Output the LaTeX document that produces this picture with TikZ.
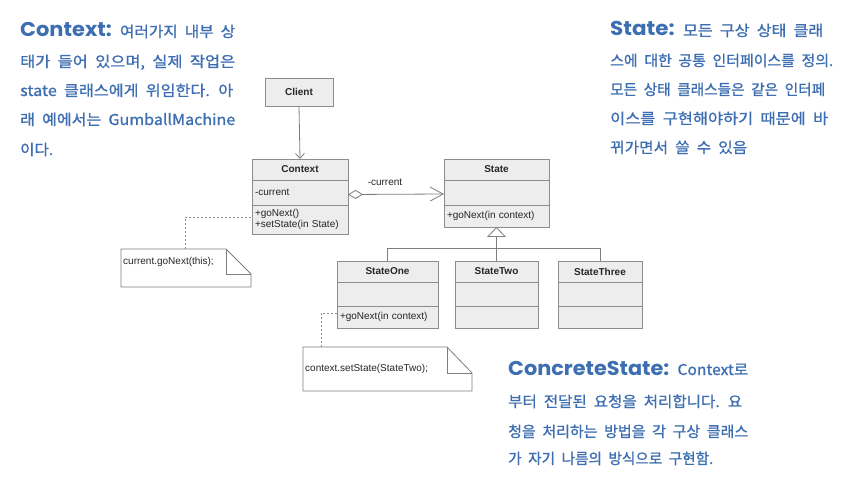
\documentclass[tikz,border=0pt]{standalone}
\usepackage{fontspec}
\usepackage{graphicx}
\setmainfont{Liberation Sans}
\newfontfamily\kr[WordSpace=2, FakeBold=1]{Noto Sans CJK KR}
\newfontfamily\hd{Poppins}
\usetikzlibrary{arrows.meta}
\definecolor{hand}{HTML}{3D6EB2}
\definecolor{boxfill}{HTML}{EDEDED}
\definecolor{boxline}{HTML}{8C8C8C}
\definecolor{umltext}{HTML}{262626}
\newcommand\umlfont{\fontsize{10}{12}\selectfont}
\newcommand\hdtxt[1]{{\hd\bfseries\fontsize{20}{24}\selectfont #1}}
\newcommand\fitw[2]{\resizebox{#1pt}{\height}{#2}}
\begin{document}
\begin{tikzpicture}[x=1pt,y=-1pt,
  cls/.style={draw=boxline, fill=boxfill, line width=0.8pt, inner sep=0pt, outer sep=0pt, anchor=north west, text=umltext, font=\umlfont},
  ttl/.style={cls, font=\umlfont\bfseries},
  body/.style={cls, align=left, inner xsep=3pt},
  conn/.style={draw=boxline!90!black, line width=0.8pt},
  notelink/.style={draw=boxline, line width=0.8pt, dash pattern=on 2pt off 2pt},
  notebox/.style={inner sep=0pt, outer sep=0pt, anchor=north west},
  notetext/.style={anchor=west, inner sep=0pt, text=umltext, font=\umlfont},
  handline/.style={anchor=base west, inner sep=0pt, text=hand, font=\kr\fontsize{15}{18}\selectfont}]
\useasboundingbox[fill=white] (0,0) rectangle (847,489);

% Client
\node[ttl, minimum width=68pt, minimum height=28pt] (client) at (265,78) {Client};

% Context
\node[ttl, minimum width=96pt, minimum height=21pt] (ctxT) at (252,159) {Context};
\node[body, text width=90pt, minimum height=25pt] (ctxA) at (ctxT.south west) {-current};
\node[body, text width=90pt, minimum height=29pt] (ctxO) at (ctxA.south west) {+goNext()\\[-1pt]+setState(in State)};

% State
\node[ttl, minimum width=105pt, minimum height=21pt] (stT) at (444,159) {State};
\node[cls, minimum width=105pt, minimum height=25pt] (stA) at (stT.south west) {};
\node[body, text width=99pt, minimum height=22pt] (stO) at (stA.south west) {+goNext(in context)};

% StateOne
\node[ttl, minimum width=101pt, minimum height=21pt] (s1T) at (337,261) {StateOne};
\node[cls, minimum width=101pt, minimum height=24pt] (s1A) at (s1T.south west) {};
\node[body, text width=95pt, minimum height=22pt] (s1O) at (s1A.south west) {+goNext(in context)};

% StateTwo
\node[ttl, minimum width=83pt, minimum height=21pt] (s2T) at (455,261) {StateTwo};
\node[cls, minimum width=83pt, minimum height=24pt] (s2A) at (s2T.south west) {};
\node[cls, minimum width=83pt, minimum height=22pt] (s2O) at (s2A.south west) {};

% StateThree
\node[ttl, minimum width=84pt, minimum height=21pt] (s3T) at (558,261) {StateThree};
\node[cls, minimum width=84pt, minimum height=24pt] (s3A) at (s3T.south west) {};
\node[cls, minimum width=84pt, minimum height=22pt] (s3O) at (s3A.south west) {};

% connectors
\draw[conn, -{Straight Barb[length=5pt, width=9pt]}] (client.south) -- (ctxT.north);
\draw[conn, {Diamond[open, fill=white, length=15pt, width=9pt]}-{Straight Barb[length=13pt, width=14pt]}] ([yshift=-2pt]ctxA.east) -- ([yshift=-1.5pt]stA.west);
\node[inner sep=0pt, text=umltext, font=\umlfont] (cur) at (385,182) {-current};

\coordinate (junc) at (496.5,248);
\draw[conn] (s1T.north) |- (junc);
\draw[conn] (s3T.north) |- (junc);
\draw[conn] (s2T.north) -- (junc);
\draw[conn, -{Triangle[open, fill=white, length=10pt, width=19pt]}] (junc) -- (stO.south);

% note 1
\node[notebox, minimum width=130pt, minimum height=38pt] (n1) at (121,249) {};
\draw[conn, fill=white] (n1.south west) -- (n1.north west) -- ([xshift=-25pt]n1.north east) -- ([yshift=-25pt]n1.north east) -- (n1.south east) -- cycle;
\draw[conn] ([xshift=-25pt]n1.north east) -- ([xshift=-25pt, yshift=-25pt]n1.north east) -- ([yshift=-25pt]n1.north east);
\node[notetext] (n1t) at (123,262) {current.goNext(this);};
\draw[notelink] ([xshift=-1pt]n1.north) |- ([yshift=2.5pt]ctxO.west);

% note 2
\node[notebox, minimum width=169pt, minimum height=44pt] (n2) at (303,347) {};
\draw[conn, fill=white] (n2.south west) -- (n2.north west) -- ([xshift=-25pt]n2.north east) -- ([yshift=-26pt]n2.north east) -- (n2.south east) -- cycle;
\draw[conn] ([xshift=-25pt]n2.north east) -- ([xshift=-25pt, yshift=-26pt]n2.north east) -- ([yshift=-26pt]n2.north east);
\node[notetext] (n2t) at (305,369) {context.setState(StateTwo);};
\draw[notelink] ([xshift=-66.5pt]n2.north) |- ([yshift=4pt]s1O.west);

% Context description
\node[handline] (c1) at (20,37) {\fitw{215}{\hdtxt{Context:} 여러가지 내부 상}};
\node[handline] (c2) at (20,67) {\fitw{215}{태가 들어 있으며, 실제 작업은}};
\node[handline] (c3) at (20,96) {\fitw{213}{state 클래스에게 위임한다. 아}};
\node[handline] (c4) at (20,125) {\fitw{215}{래 예에서는 GumballMachine}};
\node[handline] (c5) at (20,155) {\fitw{33}{이다.}};

% State description
\node[handline] (t1) at (610,36) {\fitw{213}{\hdtxt{State:} 모든 구상 상태 클래}};
\node[handline] (t2) at (610,66) {\fitw{223}{스에 대한 공통 인터페이스를 정의.}};
\node[handline] (t3) at (610,95) {\fitw{215}{모든 상태 클래스들은 같은 인터페}};
\node[handline] (t4) at (610,124) {\fitw{218}{이스를 구현해야하기 때문에 바}};
\node[handline] (t5) at (610,153) {\fitw{137}{뀌가면서 쓸 수 있음}};

% ConcreteState description
\node[handline] (k1) at (508,375) {\fitw{240}{\hdtxt{ConcreteState:} Context로}};
\node[handline] (k2) at (508,407) {\fitw{234}{부터 전달된 요청을 처리합니다. 요}};
\node[handline] (k3) at (508,437) {\fitw{240}{청을 처리하는 방법을 각 구상 클래스}};
\node[handline] (k4) at (508,464) {\fitw{205}{가 자기 나름의 방식으로 구현함.}};
\end{tikzpicture}
\end{document}
